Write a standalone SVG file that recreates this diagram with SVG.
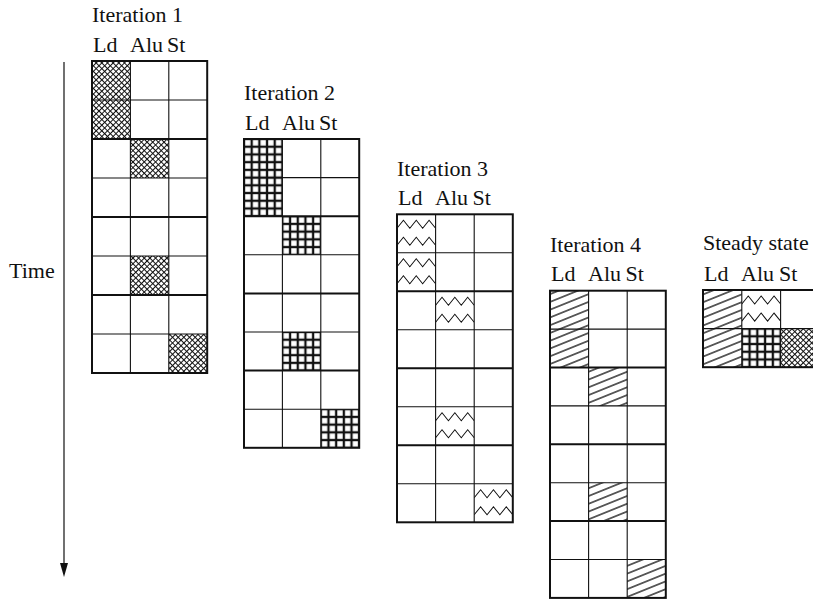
<svg xmlns="http://www.w3.org/2000/svg" xmlns:xlink="http://www.w3.org/1999/xlink" width="813" height="600" viewBox="0 0 813 600">
<style>
text { font-family: "Liberation Serif", "Times New Roman", serif; font-size: 22px; fill: #111; }
.outer { fill: none; stroke: #111; stroke-width: 2; }
.thin { stroke: #111; stroke-width: 1.1; fill: none; }
.thick { stroke: #111; stroke-width: 2; fill: none; }
.zz { fill: none; stroke: #111; stroke-width: 1; }
</style>
<defs>
  <pattern id="xh" patternUnits="userSpaceOnUse" width="4" height="4" patternTransform="rotate(45)">
    <path d="M0 0.5H4M0.5 0V4" stroke="#111" stroke-width="1" fill="none"/>
  </pattern>
  <pattern id="grid" patternUnits="objectBoundingBox" width="0.2" height="0.2" viewBox="0 0 10 10" preserveAspectRatio="none">
    <rect x="0.75" y="0.75" width="8.5" height="8.5" fill="#fff" stroke="#111" stroke-width="1.5"/>
  </pattern>
  <pattern id="diag" patternUnits="userSpaceOnUse" width="10" height="7.2" patternTransform="rotate(-22)">
    <line x1="0" y1="3.6" x2="10" y2="3.6" stroke="#000" stroke-width="1.2"/>
  </pattern>
  <symbol id="zig" viewBox="0 0 38.5 38.5" preserveAspectRatio="none">
    <polyline class="zz" points="0,14 6.4,6 12.8,14 19.2,6 25.6,14 32,6 38.5,14"/>
    <polyline class="zz" points="0,31 6.4,23 12.8,31 19.2,23 25.6,31 32,23 38.5,31"/>
  </symbol>
</defs>

<g id="connectors">
  <line x1="64" y1="62" x2="64" y2="566" stroke="#111" stroke-width="1.2"/>
  <polygon points="60,563 68,563 64,577" fill="#111"/>
  <text x="9" y="278">Time</text>
</g>

<g id="iteration1">
  <text x="92" y="22">Iteration 1</text>
  <text x="93" y="51.5">Ld</text><text x="130" y="51.5">Alu</text><text x="167" y="51.5">St</text>
  <rect x="92" y="61" width="38.4" height="39" fill="url(#xh)"/>
  <rect x="92" y="100" width="38.4" height="39" fill="url(#xh)"/>
  <rect x="130.4" y="139" width="38.4" height="39" fill="url(#xh)"/>
  <rect x="130.4" y="256" width="38.4" height="39" fill="url(#xh)"/>
  <rect x="168.8" y="334" width="38.4" height="39" fill="url(#xh)"/>
  <path class="thin" d="M130.4 61V373M168.8 61V373M92 100H207.2M92 178H207.2M92 256H207.2M92 334H207.2"/>
  <path class="thick" d="M92 139H207.2M92 217H207.2M92 295H207.2"/>
  <rect class="outer" x="92" y="61" width="115.2" height="312"/>
</g>

<g id="iteration2">
  <text x="244" y="100">Iteration 2</text>
  <text x="245" y="129.5">Ld</text><text x="282" y="129.5">Alu</text><text x="319" y="129.5">St</text>
  <rect x="244" y="139" width="38.4" height="38.6" fill="url(#grid)"/>
  <rect x="244" y="177.6" width="38.4" height="38.6" fill="url(#grid)"/>
  <rect x="282.4" y="216.2" width="38.4" height="38.6" fill="url(#grid)"/>
  <rect x="282.4" y="332" width="38.4" height="38.6" fill="url(#grid)"/>
  <rect x="320.8" y="409.2" width="38.4" height="38.6" fill="url(#grid)"/>
  <path class="thin" d="M282.4 139V447.8M320.8 139V447.8M244 177.6H359.2M244 254.8H359.2M244 332H359.2M244 409.2H359.2"/>
  <path class="thick" d="M244 216.2H359.2M244 293.4H359.2M244 370.6H359.2"/>
  <rect class="outer" x="244" y="139" width="115.2" height="308.8"/>
</g>

<g id="iteration3">
  <text x="397" y="175.5">Iteration 3</text>
  <text x="398" y="205">Ld</text><text x="435" y="205">Alu</text><text x="472.5" y="205">St</text>
  <use xlink:href="#zig" x="397" y="214.3" width="38.6" height="38.5"/>
  <use xlink:href="#zig" x="397" y="252.8" width="38.6" height="38.5"/>
  <use xlink:href="#zig" x="435.6" y="291.3" width="38.6" height="38.5"/>
  <use xlink:href="#zig" x="435.6" y="406.8" width="38.6" height="38.5"/>
  <use xlink:href="#zig" x="474.2" y="483.8" width="38.6" height="38.5"/>
  <path class="thin" d="M435.6 214.3V522.3M474.2 214.3V522.3M397 252.8H512.8M397 329.8H512.8M397 406.8H512.8M397 483.8H512.8"/>
  <path class="thick" d="M397 291.3H512.8M397 368.3H512.8M397 445.3H512.8"/>
  <rect class="outer" x="397" y="214.3" width="115.8" height="308"/>
</g>

<g id="iteration4">
  <text x="550" y="252">Iteration 4</text>
  <text x="551" y="281">Ld</text><text x="588" y="281">Alu</text><text x="625.5" y="281">St</text>
  <rect x="550" y="290.7" width="38.6" height="38.4" fill="url(#diag)"/>
  <rect x="550" y="329.1" width="38.6" height="38.4" fill="url(#diag)"/>
  <rect x="588.6" y="367.5" width="38.6" height="38.4" fill="url(#diag)"/>
  <rect x="588.6" y="482.7" width="38.6" height="38.4" fill="url(#diag)"/>
  <rect x="627.2" y="559.5" width="38.6" height="38.4" fill="url(#diag)"/>
  <path class="thin" d="M588.6 290.7V597.9M627.2 290.7V597.9M550 329.1H665.8M550 405.9H665.8M550 482.7H665.8M550 559.5H665.8"/>
  <path class="thick" d="M550 367.5H665.8M550 444.3H665.8M550 521.1H665.8"/>
  <rect class="outer" x="550" y="290.7" width="115.8" height="307.2"/>
</g>

<g id="steady-state">
  <text x="703" y="250">Steady state</text>
  <text x="704" y="280.5">Ld</text><text x="741" y="280.5">Alu</text><text x="779" y="280.5">St</text>
  <rect x="703" y="290" width="38.8" height="38.6" fill="url(#diag)"/>
  <rect x="703" y="328.6" width="38.8" height="38.6" fill="url(#diag)"/>
  <use xlink:href="#zig" x="741.8" y="290" width="38.8" height="38.6"/>
  <rect x="741.8" y="328.6" width="38.8" height="38.6" fill="url(#grid)"/>
  <rect x="780.6" y="328.6" width="38.8" height="38.6" fill="url(#xh)"/>
  <path class="thin" d="M741.8 290V367.2M780.6 290V367.2M703 328.6H819.4"/>
  <rect class="outer" x="703" y="290" width="116.4" height="77.2"/>
</g>
</svg>
